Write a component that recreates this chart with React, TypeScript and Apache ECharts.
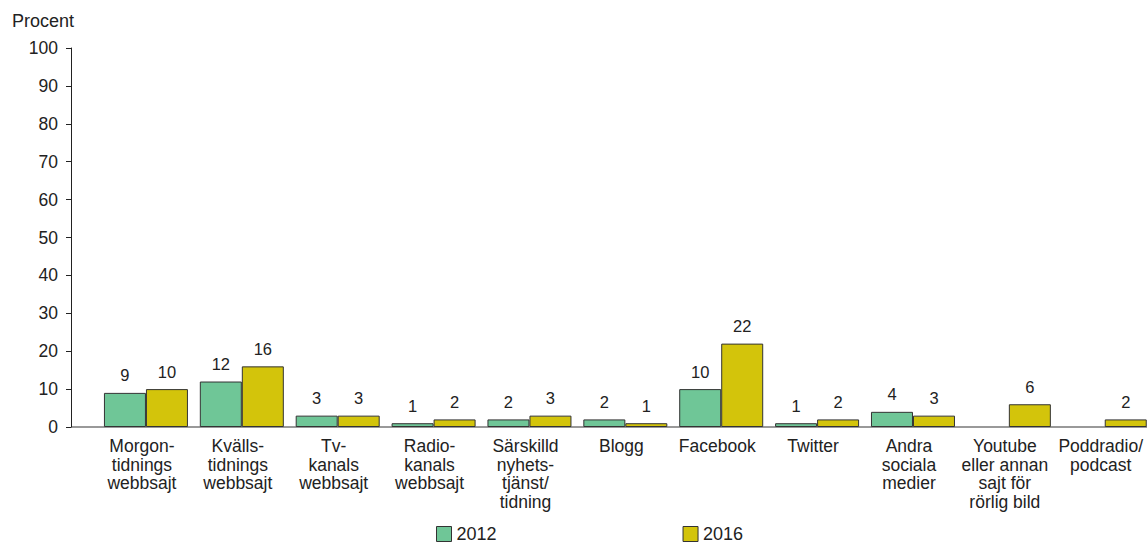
import React, { useEffect, useRef } from "react";
import * as echarts from "echarts";

const categories = [
  "Morgon-\ntidnings\nwebbsajt",
  "Kvälls-\ntidnings\nwebbsajt",
  "Tv-\nkanals\nwebbsajt",
  "Radio-\nkanals\nwebbsajt",
  "Särskilld\nnyhets-\ntjänst/\ntidning",
  "Blogg",
  "Facebook",
  "Twitter",
  "Andra\nsociala\nmedier",
  "Youtube\neller annan\nsajt för\nrörlig bild",
  "Poddradio/\npodcast",
];
const values2012: (number | null)[] = [9, 12, 3, 1, 2, 2, 10, 1, 4, null, null];
const values2016: (number | null)[] = [10, 16, 3, 2, 3, 1, 22, 2, 3, 6, 2];
const seriesNames = ["2012", "2016"];
const colors = ["#6fc697", "#d3c40b"];

const FONT = "'Liberation Sans', Arial, Helvetica, sans-serif";

export default function App() {
  const ref = useRef<HTMLDivElement>(null);
  useEffect(() => {
    if (!ref.current) return;
    const chart = echarts.init(ref.current, null, { renderer: "svg" });
    const mkSeries = (name: string, data: (number | null)[], color: string) => ({
      name,
      type: "bar",
      data,
      barWidth: 42,
      barGap: "0%",
      itemStyle: { color, borderColor: "#333", borderWidth: 1 },
      label: {
        show: true,
        position: "top",
        distance: 9,
        color: "#222",
        fontSize: 16.5,
        fontFamily: FONT,
      },
    });
    chart.setOption({
      animation: false,
      textStyle: { fontFamily: FONT },
      title: {
        text: "Procent",
        left: 12,
        top: 12,
        padding: 0,
        textStyle: { fontSize: 18, fontWeight: "normal", color: "#222", fontFamily: FONT },
      },
      grid: { left: 98, right: 0, top: 48, bottom: 116, containLabel: false },
      legend: {
        left: 436,
        top: 525,
        padding: 0,
        itemWidth: 15,
        itemHeight: 15,
        itemGap: 186,
        icon: "rect",
        data: seriesNames,
        textStyle: { fontSize: 18, color: "#222", fontFamily: FONT },
        itemStyle: { borderColor: "#333", borderWidth: 1 },
      },
      xAxis: {
        type: "category",
        data: categories,
        axisLine: { lineStyle: { color: "#999", width: 2 } },
        axisTick: { show: false },
        axisLabel: {
          interval: 0,
          margin: 10,
          fontSize: 17.5,
          lineHeight: 18.5,
          padding: [0, 8, 0, 0],
          color: "#222",
          fontFamily: FONT,
        },
      },
      yAxis: {
        type: "value",
        min: 0,
        max: 100,
        interval: 10,
        offset: 27,
        axisLine: { show: true, lineStyle: { color: "#222", width: 1 } },
        axisTick: { show: true, length: 5, lineStyle: { color: "#222" } },
        splitLine: { show: false },
        axisLabel: { margin: 13, fontSize: 17.5, color: "#222", fontFamily: FONT },
      },
      graphic: [
        {
          type: "line",
          shape: { x1: 71, y1: 427, x2: 98, y2: 427 },
          style: { stroke: "#999", lineWidth: 2 },
          z: 0,
        },
      ],
      series: [
        mkSeries(seriesNames[0], values2012, colors[0]),
        mkSeries(seriesNames[1], values2016, colors[1]),
      ],
    });
    return () => chart.dispose();
  }, []);
  return (
    <div style={{ position: "absolute", left: 0, top: 0, width: 1147, height: 543, overflow: "hidden" }}>
      <div ref={ref} style={{ width: 1154, height: 543 }} />
    </div>
  );
}
